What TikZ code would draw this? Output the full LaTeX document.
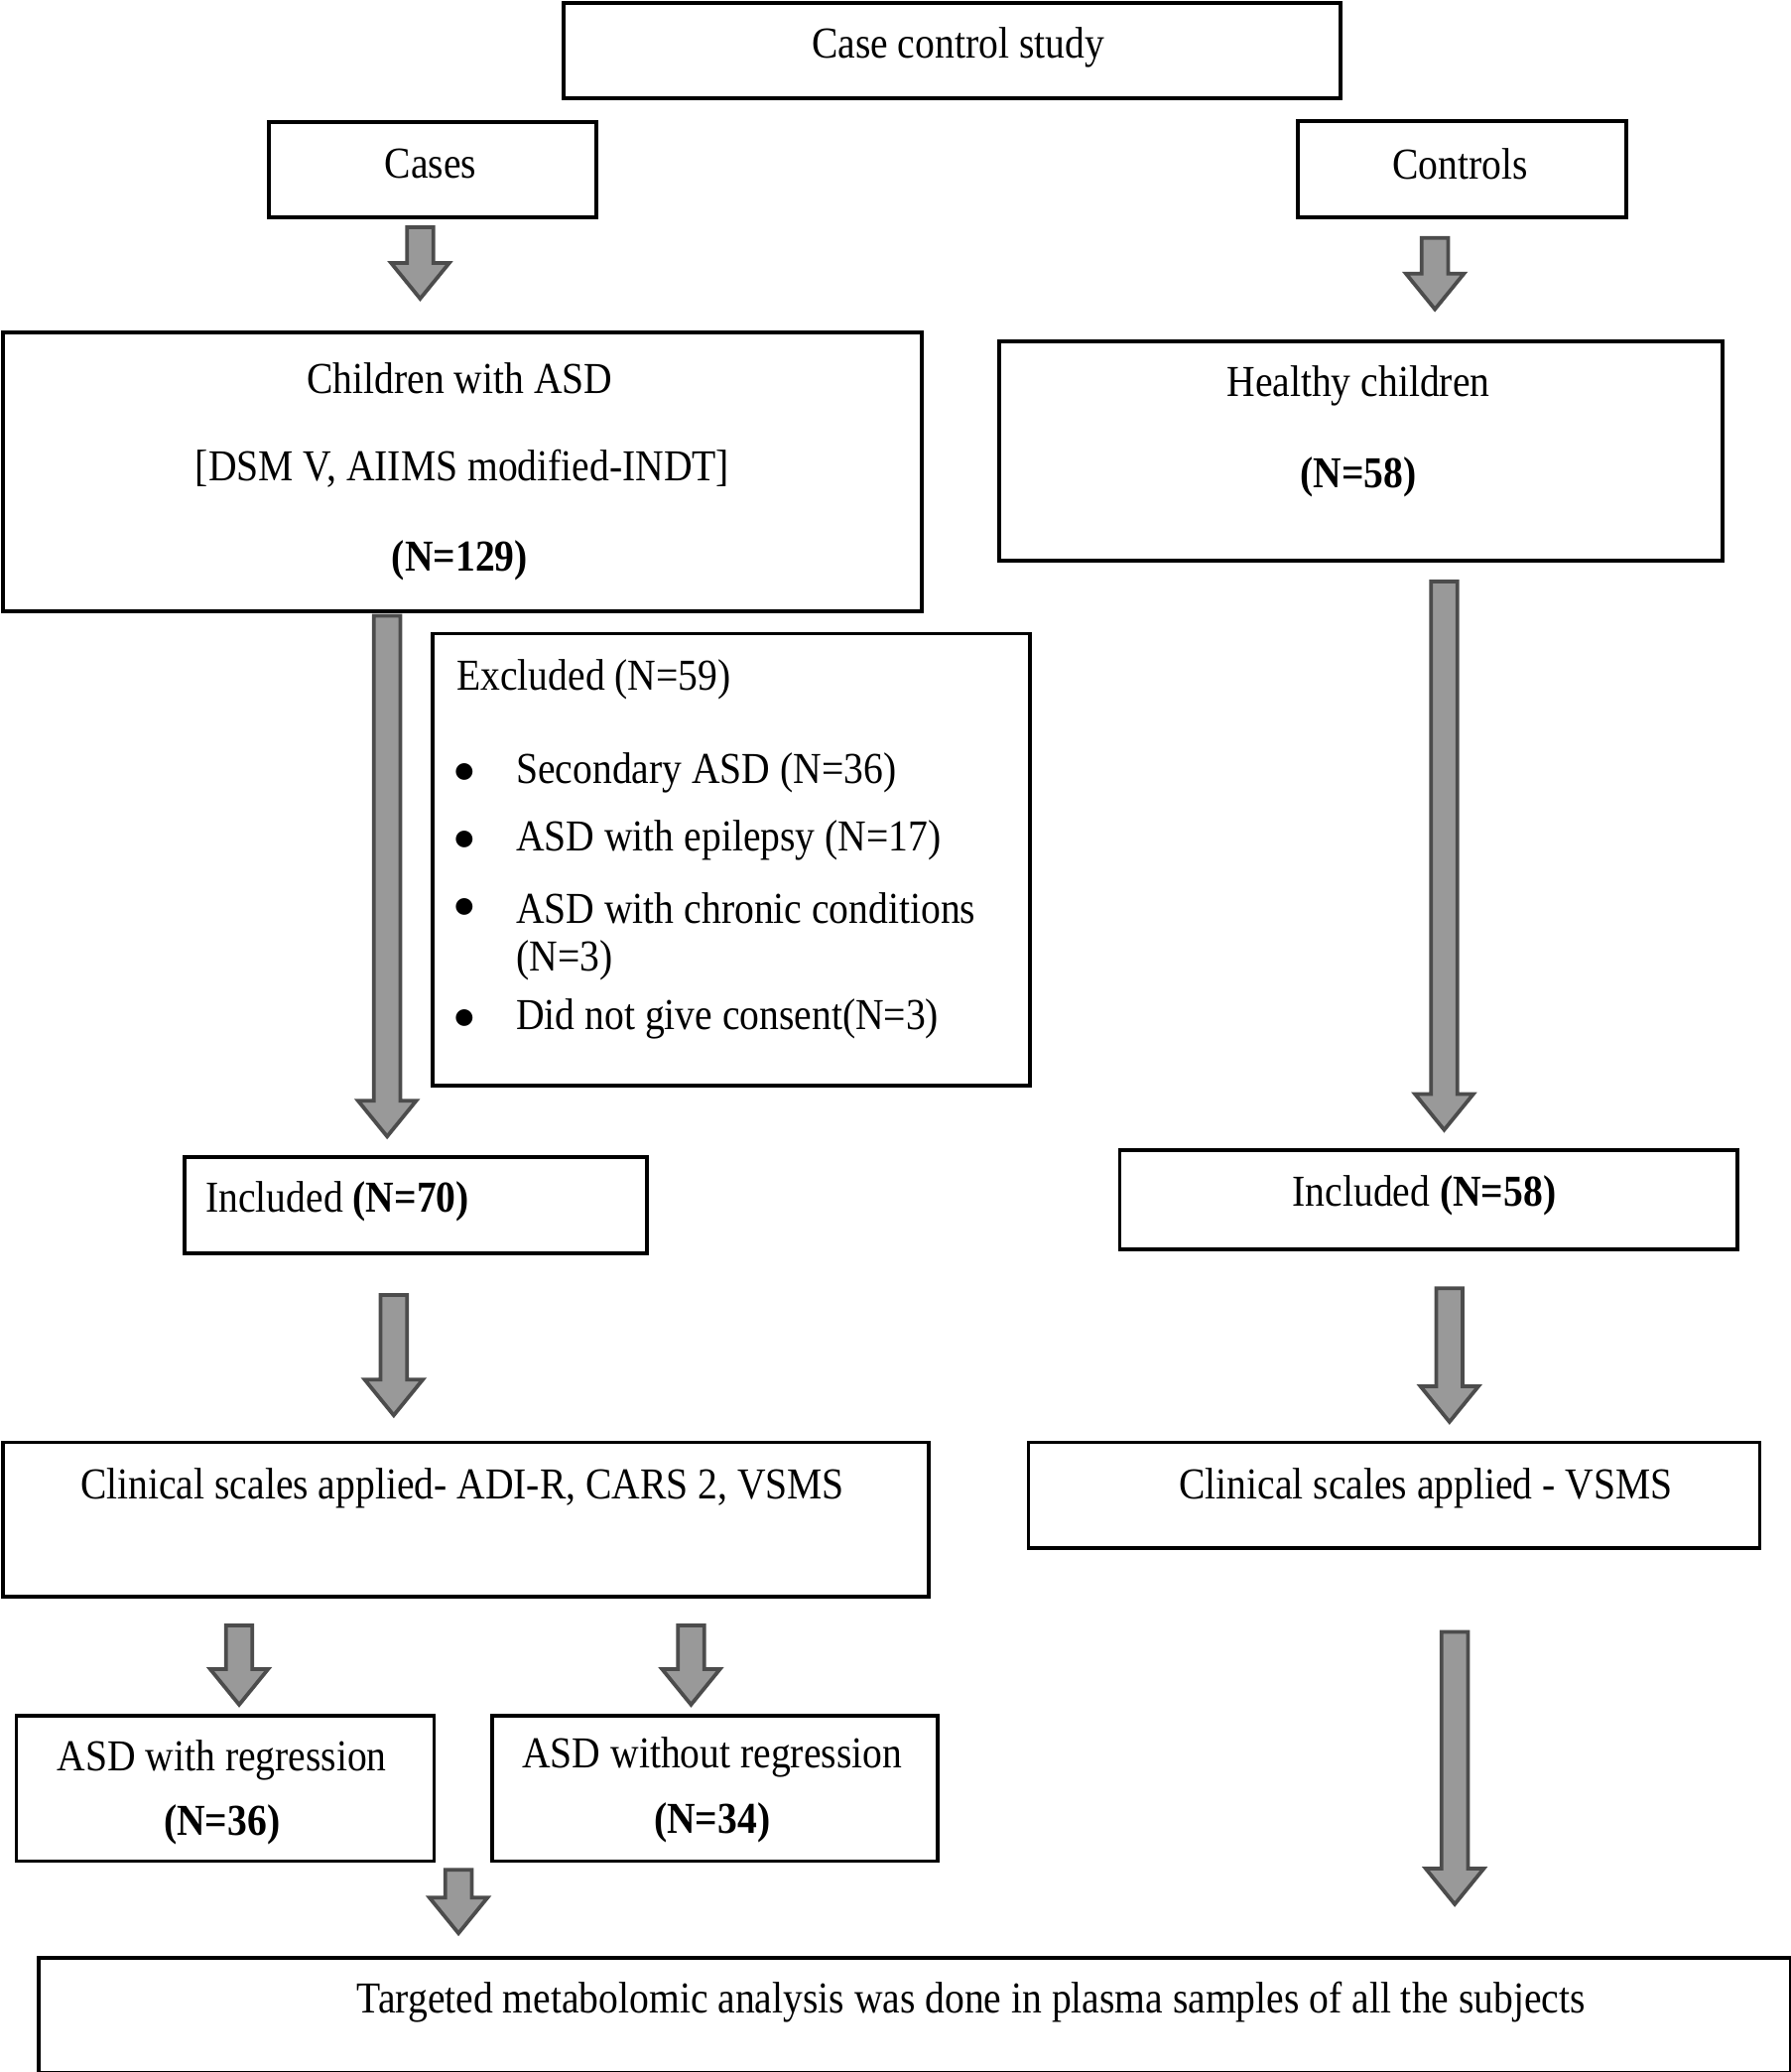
\documentclass[tikz,border=0pt]{standalone}
\usepackage{fontspec}
\setmainfont{Liberation Serif}[FakeStretch=0.89]
\usetikzlibrary{positioning}
\tikzset{
  box/.style={draw, thick, anchor=north west, inner sep=0pt},
  txt/.style={font=\fontsize{9.5}{11}\selectfont, inner sep=0pt},
}
% block arrow: x, top y, bottom y
\newcommand{\blockarrow}[3]{%
  \draw[fill=gray!80, draw=black!70, thick]
    (#1-10,#2) -- (#1+10,#2) -- (#1+10,#3-27) -- (#1+22,#3-27) -- (#1,#3)
    -- (#1-22,#3-27) -- (#1-10,#3-27) -- cycle;}
\begin{document}
\begin{tikzpicture}[x=0.01cm, y=-0.01cm]
\useasboundingbox (0,0) rectangle (1355,1568);

% Top
\node (study) [box, minimum width=5.88cm, minimum height=0.72cm] at (425,1) {};
\node [txt] at (725,36) {Case control study};
\node (cases) [box, minimum width=2.48cm, minimum height=0.72cm] at (202,91) {};
\node [txt] at (326,124) {Cases};
\node (controls) [box, minimum width=2.48cm, minimum height=0.73cm] at (981,90) {};
\node [txt] at (1105,124) {Controls};
\blockarrow{318}{172}{226}
\blockarrow{1086}{180}{234}

% Recruited
\node (asd) [box, minimum width=6.95cm, minimum height=2.11cm] at (1,250) {};
\node [txt] at (348,286) {Children with ASD};
\node [txt] at (350,355) {[DSM V, AIIMS modified-INDT]};
\node [txt] at (348,424) {\textbf{(N=129)}};
\node (healthy) [box, minimum width=5.47cm, minimum height=1.66cm] at (755,257) {};
\node [txt] at (1028,292) {Healthy children};
\node [txt] at (1028,361) {\textbf{(N=58)}};

% Excluded
\node (excl) [box, minimum width=4.52cm, minimum height=3.42cm] at (326,478) {};
\node [txt, anchor=west] at (345,514) {Excluded (N=59)};
\foreach \y/\t in {585/{Secondary ASD (N=36)}, 636/{ASD with epilepsy (N=17)},
                   687/{ASD with chronic conditions}, 771/{Did not give consent(N=3)}}
  {\node [txt] at (352,\y) {$\bullet$};
   \node [txt, anchor=west] at (390,\y) {\t};}
\node [txt, anchor=west] at (390,727) {(N=3)};
\blockarrow{293}{466}{860}
\blockarrow{1093}{440}{855}

% Included
\node (inc1) [box, minimum width=3.50cm, minimum height=0.73cm] at (138,874) {};
\node [txt, anchor=west] at (155,909) {Included \textbf{(N=70)}};
\node (inc2) [box, minimum width=4.67cm, minimum height=0.75cm] at (846,869) {};
\node [txt] at (1078,905) {Included \textbf{(N=58)}};
\blockarrow{298}{980}{1071}
\blockarrow{1097}{975}{1076}

% Clinical scales
\node (clin1) [box, minimum width=7.00cm, minimum height=1.17cm] at (1,1090) {};
\node [txt] at (350,1126) {Clinical scales applied- ADI-R, CARS 2, VSMS};
\node (clin2) [box, minimum width=5.53cm, minimum height=0.80cm] at (777,1090) {};
\node [txt] at (1079,1126) {Clinical scales applied - VSMS};
\blockarrow{181}{1230}{1290}
\blockarrow{523}{1230}{1290}
\blockarrow{1101}{1235}{1441}

% Subgroups
\node (reg) [box, minimum width=3.16cm, minimum height=1.10cm] at (11,1297) {};
\node [txt] at (168,1332) {ASD with regression};
\node [txt] at (168,1381) {\textbf{(N=36)}};
\node (noreg) [box, minimum width=3.37cm, minimum height=1.10cm] at (371,1297) {};
\node [txt] at (539,1330) {ASD without regression};
\node [txt] at (539,1379) {\textbf{(N=34)}};
\blockarrow{347}{1415}{1463}

% Final
\node (final) [box, minimum width=13.25cm, minimum height=0.87cm] at (28,1480) {};
\node [txt] at (735,1515) {Targeted metabolomic analysis was done in plasma samples of all the subjects};
\end{tikzpicture}
\end{document}
